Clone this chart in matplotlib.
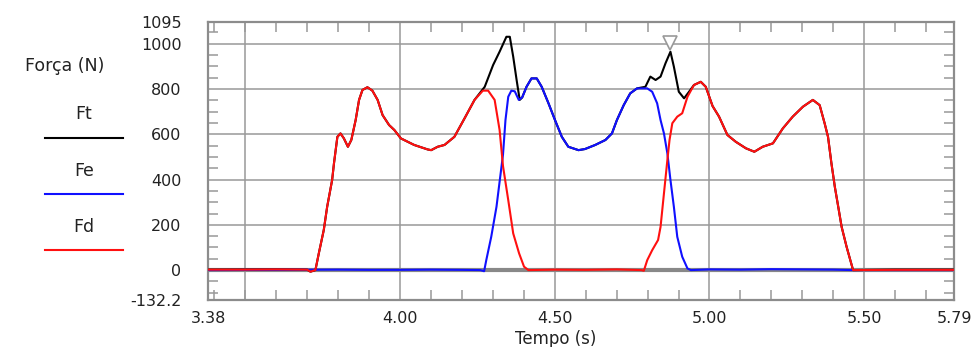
import matplotlib
matplotlib.use("Agg")
import matplotlib.pyplot as plt
from matplotlib.ticker import MultipleLocator, FixedLocator
from matplotlib.lines import Line2D

plt.rcParams['font.family'] = ['DejaVu Sans']

# Fd (red)
fd_t = [3.38, 3.50, 3.60, 3.70, 3.711, 3.727, 3.738, 3.754, 3.765, 3.781, 3.787, 3.798,
        3.808, 3.819, 3.832, 3.843, 3.857, 3.868, 3.879, 3.895, 3.911, 3.928, 3.944,
        3.965, 3.982, 4.003, 4.046, 4.090, 4.101, 4.122, 4.144, 4.176, 4.209, 4.241,
        4.268, 4.285, 4.306, 4.322, 4.333, 4.350, 4.366, 4.385, 4.401, 4.415, 4.50,
        4.60, 4.70, 4.78, 4.788, 4.799, 4.815, 4.834, 4.842, 4.853, 4.864, 4.871,
        4.880, 4.896, 4.912, 4.929, 4.950, 4.972, 4.988, 5.010, 5.031, 5.058, 5.085,
        5.118, 5.145, 5.172, 5.205, 5.237, 5.269, 5.302, 5.334, 5.356, 5.372, 5.383,
        5.394, 5.405, 5.416, 5.427, 5.443, 5.455, 5.464, 5.60, 5.79]
fd_v = [2, 2, 3, 2, -7, 0, 74, 177, 280, 398, 472, 589,
        604, 582, 545, 575, 663, 752, 796, 808, 793, 752, 685,
        641, 619, 582, 553, 533, 530, 545, 553, 589, 671, 752,
        793, 793, 752, 619, 460, 309, 162, 74, 15, 0, 2,
        1, 3, 0, -3, 44, 88, 133, 191, 339, 486, 575,
        649, 678, 693, 766, 818, 832, 810, 725, 678, 597, 567,
        538, 523, 545, 560, 626, 678, 722, 752, 729, 649, 589,
        472, 368, 280, 191, 103, 44, 0, 1, 1]

# Fe (blue)
fe_t = [3.38, 3.60, 3.80, 3.90, 4.00, 4.10, 4.20, 4.26, 4.272, 4.279, 4.295, 4.312,
        4.322, 4.333, 4.341, 4.350, 4.360, 4.371, 4.384, 4.395, 4.409, 4.425, 4.442,
        4.458, 4.480, 4.501, 4.523, 4.544, 4.577, 4.598, 4.631, 4.664, 4.685, 4.701,
        4.723, 4.744, 4.766, 4.799, 4.815, 4.831, 4.842, 4.853, 4.864, 4.874, 4.885,
        4.896, 4.912, 4.929, 4.940, 5.00, 5.10, 5.20, 5.30, 5.40, 5.46, 5.79]
fe_v = [0, 1, 2, 1, 1, 2, 1, 0, -5, 44, 147, 280,
        390, 510, 663, 766, 793, 790, 752, 763, 810, 847, 847,
        810, 737, 663, 589, 545, 530, 535, 553, 575, 604, 663,
        729, 781, 803, 803, 788, 737, 663, 604, 516, 398, 280,
        147, 59, 7, 0, 3, 2, 4, 3, 2, 0, 0]

# Ft (black)
ft_t = [3.38, 3.60, 3.70, 3.711, 3.727, 3.738, 3.754, 3.765, 3.781, 3.787, 3.798,
        3.808, 3.819, 3.832, 3.843, 3.857, 3.868, 3.879, 3.895, 3.911, 3.928, 3.944,
        3.965, 3.982, 4.003, 4.046, 4.090, 4.101, 4.122, 4.144, 4.176, 4.209, 4.241,
        4.274, 4.301, 4.322, 4.344, 4.355, 4.366, 4.377, 4.387, 4.395, 4.409, 4.425,
        4.442, 4.458, 4.480, 4.501, 4.523, 4.544, 4.577, 4.598, 4.631, 4.664, 4.685,
        4.701, 4.723, 4.744, 4.766, 4.793, 4.809, 4.826, 4.842, 4.858, 4.874, 4.885,
        4.901, 4.918, 4.934, 4.950, 4.972, 4.988, 5.010, 5.031, 5.058, 5.085, 5.118,
        5.145, 5.172, 5.205, 5.237, 5.269, 5.302, 5.334, 5.356, 5.372, 5.383, 5.394,
        5.405, 5.416, 5.427, 5.443, 5.455, 5.464, 5.60, 5.79]
ft_v = [2, 3, 2, -7, 0, 74, 177, 280, 398, 472, 589,
        604, 582, 545, 575, 663, 752, 796, 808, 793, 752, 685,
        641, 619, 582, 553, 533, 530, 545, 553, 589, 671, 752,
        810, 906, 965, 1031, 1031, 943, 840, 752, 763, 810, 847,
        847, 810, 737, 663, 589, 545, 530, 535, 553, 575, 604,
        663, 729, 781, 803, 810, 855, 840, 855, 914, 965, 899,
        788, 759, 788, 818, 832, 810, 725, 678, 597, 567, 538,
        523, 545, 560, 626, 678, 722, 752, 729, 649, 589, 472,
        368, 280, 191, 103, 44, 0, 2, 2]

# peak marker
peak_t = 4.872
peak_v = 1003

y_ticks = [-132.2, 0, 200, 400, 600, 800, 1000, 1095]
y_labels = ['-132.2', '0', '200', '400', '600', '800', '1000', '1095']
x_ticks = [3.38, 4.00, 4.50, 5.00, 5.50, 5.79]
x_labels = ['3.38', '4.00', '4.50', '5.00', '5.50', '5.79']

W, H = 971, 347
fig = plt.figure(figsize=(W / 100, H / 100), dpi=100)
ax = fig.add_axes([208 / W, 1 - 300 / H, (954 - 208) / W, (300 - 22.3) / H])

grid_c = '#999999'
for gx in [3.5, 4.0, 4.5, 5.0, 5.5]:
    ax.axvline(gx, color=grid_c, lw=1.1, zorder=1)
for gy in [200, 400, 600, 800, 1000]:
    ax.axhline(gy, color=grid_c, lw=1.1, zorder=1)
ax.axhline(0, color='#888888', lw=3, zorder=1)

ax.plot(ft_t, ft_v, color='black', lw=1.5, zorder=3)
ax.plot(fe_t, fe_v, color='#1010ff', lw=1.5, zorder=4)
ax.plot(fd_t, fd_v, color='#ff1010', lw=1.5, zorder=5)
ax.plot([peak_t], [peak_v], marker='v', ms=10, mfc='white', mec='#999999',
        mew=1.2, zorder=6, clip_on=False)

ax.set_xlim(3.38, 5.79)
ax.set_ylim(-132.2, 1095)

ax.xaxis.set_major_locator(FixedLocator(x_ticks))
ax.set_xticklabels(x_labels)
ax.yaxis.set_major_locator(FixedLocator(y_ticks))
ax.set_yticklabels(y_labels)
ax.xaxis.set_minor_locator(MultipleLocator(0.1))
ax.yaxis.set_minor_locator(MultipleLocator(50))

ax.tick_params(which='major', length=0, labelsize=11.5, colors='#222222')
ax.tick_params(axis='y', which='major', pad=19)
ax.tick_params(axis='x', which='major', pad=8)
ax.tick_params(which='minor', direction='in', length=7, width=1.1, color=grid_c,
               top=True, right=True, bottom=True, left=True)

for s in ax.spines.values():
    s.set_color('#8c8c8c')
    s.set_linewidth(1.6)

# left-hand legend
def fy(y):
    return 1 - y / H

fig.text(65 / W, fy(66), 'Força (N)', ha='center', va='center', fontsize=12.5, color='#222222')
legend_items = [('Ft', 'black', 114, 138), ('Fe', '#1010ff', 171, 194), ('Fd', '#ff1010', 227, 250)]
for name, col, ty, ly in legend_items:
    fig.text(84 / W, fy(ty), name, ha='center', va='center', fontsize=12.5, color='#222222')
    fig.add_artist(Line2D([45 / W, 123 / W], [fy(ly), fy(ly)], color=col, lw=1.5))

fig.text(556 / W, fy(339), 'Tempo (s)', ha='center', va='center', fontsize=12, color='#222222')

fig.savefig('out.png', dpi=100)
